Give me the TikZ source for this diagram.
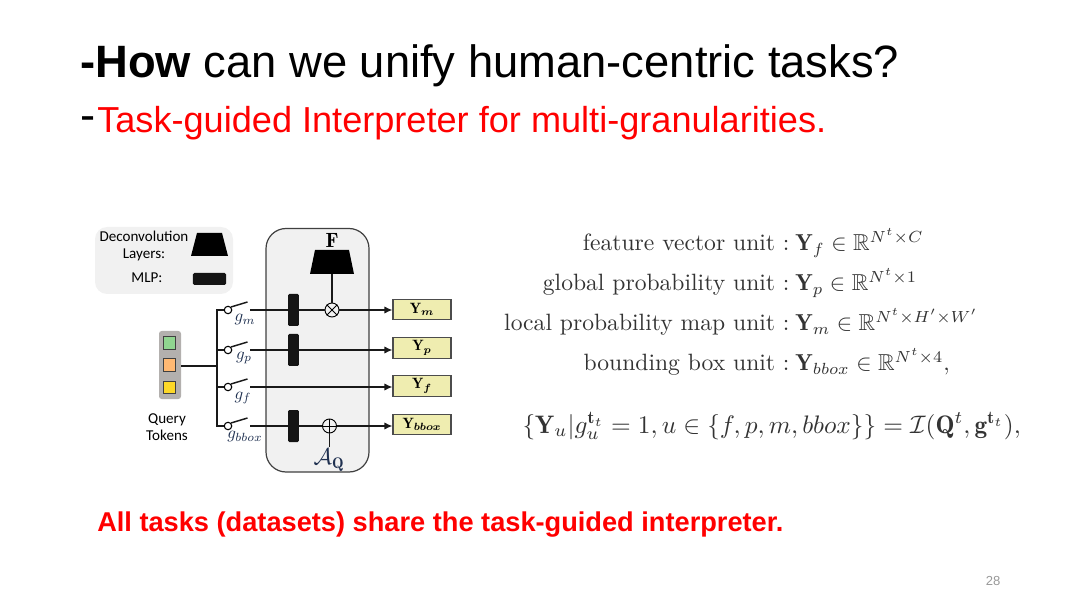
\documentclass[tikz,border=0pt]{standalone}
\usepackage{graphicx}
\usepackage{amsmath,amssymb}
\usepackage{fontspec}
\newfontfamily\arial{Liberation Sans}
\newfontfamily\carl{Carlito}
\usetikzlibrary{arrows.meta}
\definecolor{panelgray}{HTML}{F1F1F1}
\definecolor{tokgray}{HTML}{B3B0AE}
\definecolor{boxyellow}{HTML}{EFEDB0}
\definecolor{mathink}{HTML}{333333}
\definecolor{blueink}{HTML}{1F3050}
\newcommand{\ylab}[1]{\scalebox{1.12}{$\mathbf{Y}_{\boldsymbol{#1}}$}}
\newcommand{\glab}[1]{\scalebox{1.27}{$g_{#1}$}}
\tikzset{
  x=0.75pt,y=-0.75pt,
  wire/.style={line width=1.1pt,black!90},
  arr/.style={wire,-{Latex[length=6pt,width=5.5pt]}},
  bar/.style={fill=black!92,rounded corners=1pt,minimum width=8.2pt,minimum height=24pt,inner sep=0pt,draw=none},
  outbox/.style={draw=black!70,line width=0.8pt,fill=boxyellow,minimum width=43.5pt,minimum height=15.2pt,inner sep=0pt},
  sw/.style={circle,draw=black,fill=white,line width=0.8pt,minimum size=5.6pt,inner sep=0pt},
  tok/.style={draw=black!75,line width=0.7pt,minimum size=9.5pt,inner sep=0pt},
  glabel/.style={inner sep=0pt,text=blueink},
  sidetxt/.style={inner sep=0pt,align=center,font=\carl\fontsize{11.3}{13}\selectfont},
  eqrow/.style={inner sep=0pt,anchor=base west,text=mathink,scale=1.73},
  eqlab/.style={inner sep=0pt,anchor=base east,text=mathink,scale=1.77},
}
\begin{document}
\begin{tikzpicture}
\useasboundingbox (0,0) rectangle (1080,605);
% titles
\node[anchor=base west,inner sep=0pt,font=\arial\fontsize{34}{36}\selectfont] (title) at (80,78) {\textbf{-How} can we unify human-centric tasks?};
\node[anchor=base west,inner sep=0pt,font=\arial\fontsize{34}{36}\selectfont] (dash) at (80,131) {-};
\node[anchor=base west,inner sep=0pt,text=red,font=\arial\fontsize{27.1}{30}\selectfont] (sub) at (97,133) {Task-guided Interpreter for multi-granularities.};
\node[anchor=base west,inner sep=0pt,text=red,font=\arial\bfseries\fontsize{20.4}{22}\selectfont] (foot) at (97,531) {All tasks (datasets) share the task-guided interpreter.};
\node[inner sep=0pt,text=black!40,font=\arial\fontsize{9.8}{11}\selectfont] (page) at (993,581) {28};
% legend
\fill[panelgray,rounded corners=9pt] (95,227) rectangle (233,294);
\node[sidetxt] (ldec) at (144,246) {Deconvolution\\Layers:};
\node[sidetxt] (lmlp) at (147,278) {MLP:};
\fill[black] (197,233) -- (222,233) -- (228,256) -- (191,256) -- cycle;
\node[fill=black!92,rounded corners=1pt,minimum width=24.8pt,minimum height=9pt,inner sep=0pt] (lbar) at (209.5,279) {};
% main panel
\draw[fill=panelgray,draw=black!75,line width=0.9pt,rounded corners=15pt] (266,228.5) rectangle (369,472);
\node[inner sep=0pt,font=\fontsize{15.5}{16}\selectfont] (F) at (332,240.5) {$\mathbf{F}$};
\fill[black] (315,250) -- (349,250) -- (354,274) -- (310,274) -- cycle;
\coordinate (fbot) at (332,274);
% tokens
\node[fill=tokgray,rounded corners=2pt,minimum width=16.5pt,minimum height=51pt,inner sep=0pt] (tokens) at (170,365) {};
\node[tok,fill=green!45!gray!60!white] (t1) at (169.5,343) {};
\node[tok,fill=orange!55!white] (t2) at (169.5,365) {};
\node[tok,fill=yellow!70!orange!85!white] (t3) at (169.5,387.5) {};
\node[sidetxt] (qt) at (167,427) {Query\\Tokens};
% switches
\coordinate (split) at (217,366);
\node[sw] (sm) at (228,310) {};
\node[sw] (sp) at (228,350) {};
\node[sw] (sf) at (228,387) {};
\node[sw] (sb) at (228,426) {};
\draw[wire,line width=1.2pt] (sm.west) -- (217,310) -- (217,426) -- (sb.west);
\draw[wire,line width=1.2pt] (217,350) -- (sp.west);
\draw[wire,line width=1.2pt] (217,387) -- (sf.west);
\draw[wire] (split -| tokens.east) -- (split);
\foreach \n/\y in {sm/302,sp/342,sf/379,sb/418}{\draw[wire] (\n.north east) -- (247.5,\y);}
\node[glabel] (gm) at (245,320) {\glab{m}};
\node[glabel] (gp) at (244,358) {\glab{p}};
\node[glabel] (gf) at (243,398) {\glab{f}};
\node[glabel] (gb) at (245,437) {\glab{bbox}};
% bars and nodes
\node[bar] (b1) at (293.5,310) {};
\node[bar] (b2) at (293.5,350) {};
\node[bar] (b3) at (293.5,426) {};
\node[circle,draw=black,fill=panelgray,line width=0.7pt,minimum size=10.5pt,inner sep=0pt] (ot) at (332,310) {};
\draw[black,line width=0.7pt] (ot.north west) -- (ot.south east) (ot.north east) -- (ot.south west);
\node[circle,draw=black,fill=panelgray,line width=0.7pt,minimum size=10.5pt,inner sep=0pt] (op) at (329.5,426) {};
\draw[black,line width=0.7pt] (op.north) -- (op.south) (op.west) -- (op.east);
% outputs
\node[outbox] (ym) at (422,309.5) {\ylab{m}};
\node[outbox] (yp) at (422,348) {\ylab{p}};
\node[outbox] (yf) at (422,386) {\ylab{f}};
\node[outbox] (yb) at (422,424.5) {\ylab{bbox}};
% wires
\draw[wire] (250,310) -- (b1.west);
\draw[wire] (b1.east) -- (ot.west);
\draw[arr] (ot.east) -- (ym.west |- ot.east);
\draw[wire] (fbot) -- (ot.north);
\draw[wire] (250,350) -- (b2.west);
\draw[arr] (b2.east) -- (yp.west |- b2.east);
\draw[arr] (250,387) -- (yf.west |- 0,387);
\draw[wire] (250,426) -- (b3.west);
\draw[wire] (b3.east) -- (op.west);
\draw[arr] (op.east) -- (yb.west |- op.east);
\node[inner sep=0pt,text=blueink,font=\fontsize{16.5}{17}\selectfont] (aq) at (329,460) {$\mathcal{A}_{\mathbf{Q}}$};
\draw[wire] (op.south) -- (329.5,447);
% equations
\def\cx{790}
\node[eqlab] (e1l) at (\cx,251) {feature vector unit :};
\node[eqrow] (e1) at (\cx+5,251) {$\mathbf{Y}_f\in\mathbb{R}^{N^t\times C}$};
\node[eqlab] (e2l) at (\cx,291) {global probability unit :};
\node[eqrow] (e2) at (\cx+5,291) {$\mathbf{Y}_p\in\mathbb{R}^{N^t\times 1}$};
\node[eqlab] (e3l) at (\cx,331) {local probability map unit :};
\node[eqrow] (e3) at (\cx+5,331) {$\mathbf{Y}_m\in\mathbb{R}^{N^t\times H'\times W'}$};
\node[eqlab] (e4l) at (\cx,371) {bounding box unit :};
\node[eqrow] (e4) at (\cx+5,371) {$\mathbf{Y}_{bbox}\in\mathbb{R}^{N^t\times 4},$};
\node[eqrow,scale=1.098] (e5) at (522,433) {$\{\mathbf{Y}_u|g_u^{\mathbf{t}_t}=1,u\in\{f,p,m,bbox\}\}=\mathcal{I}(\mathbf{Q}^t,\mathbf{g}^{\mathbf{t}_t}),$};
\end{tikzpicture}
\end{document}
